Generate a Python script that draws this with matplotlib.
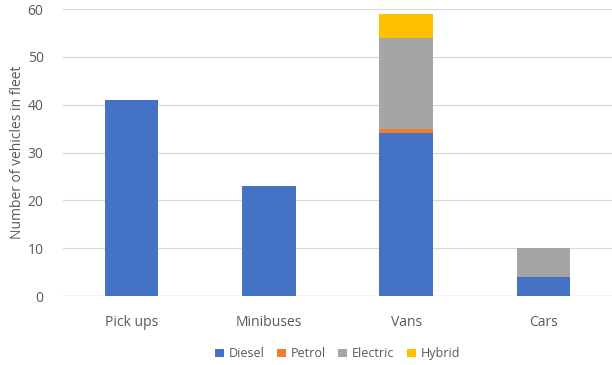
import matplotlib
matplotlib.use('Agg')
import matplotlib.pyplot as plt
import numpy as np

categories = ['Pick ups', 'Minibuses', 'Vans', 'Cars']
diesel = [41, 23, 34, 4]
petrol = [0, 0, 1, 0]
electric = [0, 0, 19, 6]
hybrid = [0, 0, 5, 0]

series = [('Diesel', diesel, '#4472C4'),
          ('Petrol', petrol, '#ED7D31'),
          ('Electric', electric, '#A5A5A5'),
          ('Hybrid', hybrid, '#FFC000')]

plt.rcParams['font.family'] = ['Open Sans', 'DejaVu Sans']
text_col = '#595959'

fig = plt.figure(figsize=(6.12, 3.65), dpi=100)
ax = fig.add_axes([0.103, 0.189, 0.897, 0.786])

x = np.arange(len(categories))
bottom = np.zeros(len(categories))
for name, vals, col in series:
    ax.bar(x, vals, 0.39, bottom=bottom, color=col, label=name, zorder=3)
    bottom += np.array(vals)

ax.set_xlim(-0.5, 3.5)
ax.set_ylim(0, 60)
ax.set_yticks(range(0, 61, 10))
ax.set_xticks(x)
ax.set_xticklabels(categories)
ax.yaxis.grid(True, color='#D9D9D9', linewidth=0.9, zorder=0)
for s in ax.spines.values():
    s.set_visible(False)
ax.axhline(0, color='#D9D9D9', linewidth=0.9, zorder=1)
ax.tick_params(length=0, colors=text_col, labelsize=10)
ax.tick_params(axis='x', pad=14)
ax.tick_params(axis='y', pad=14)
ax.set_ylabel('Number of vehicles in fleet', color=text_col, fontsize=10, labelpad=2)

ax.legend(loc='upper center', bbox_to_anchor=(0.5, -0.14), ncol=4, frameon=False,
          fontsize=9, labelcolor=text_col, handlelength=0.7, handleheight=0.7,
          columnspacing=1.0, handletextpad=0.4)

fig.savefig('out.png', dpi=100)
